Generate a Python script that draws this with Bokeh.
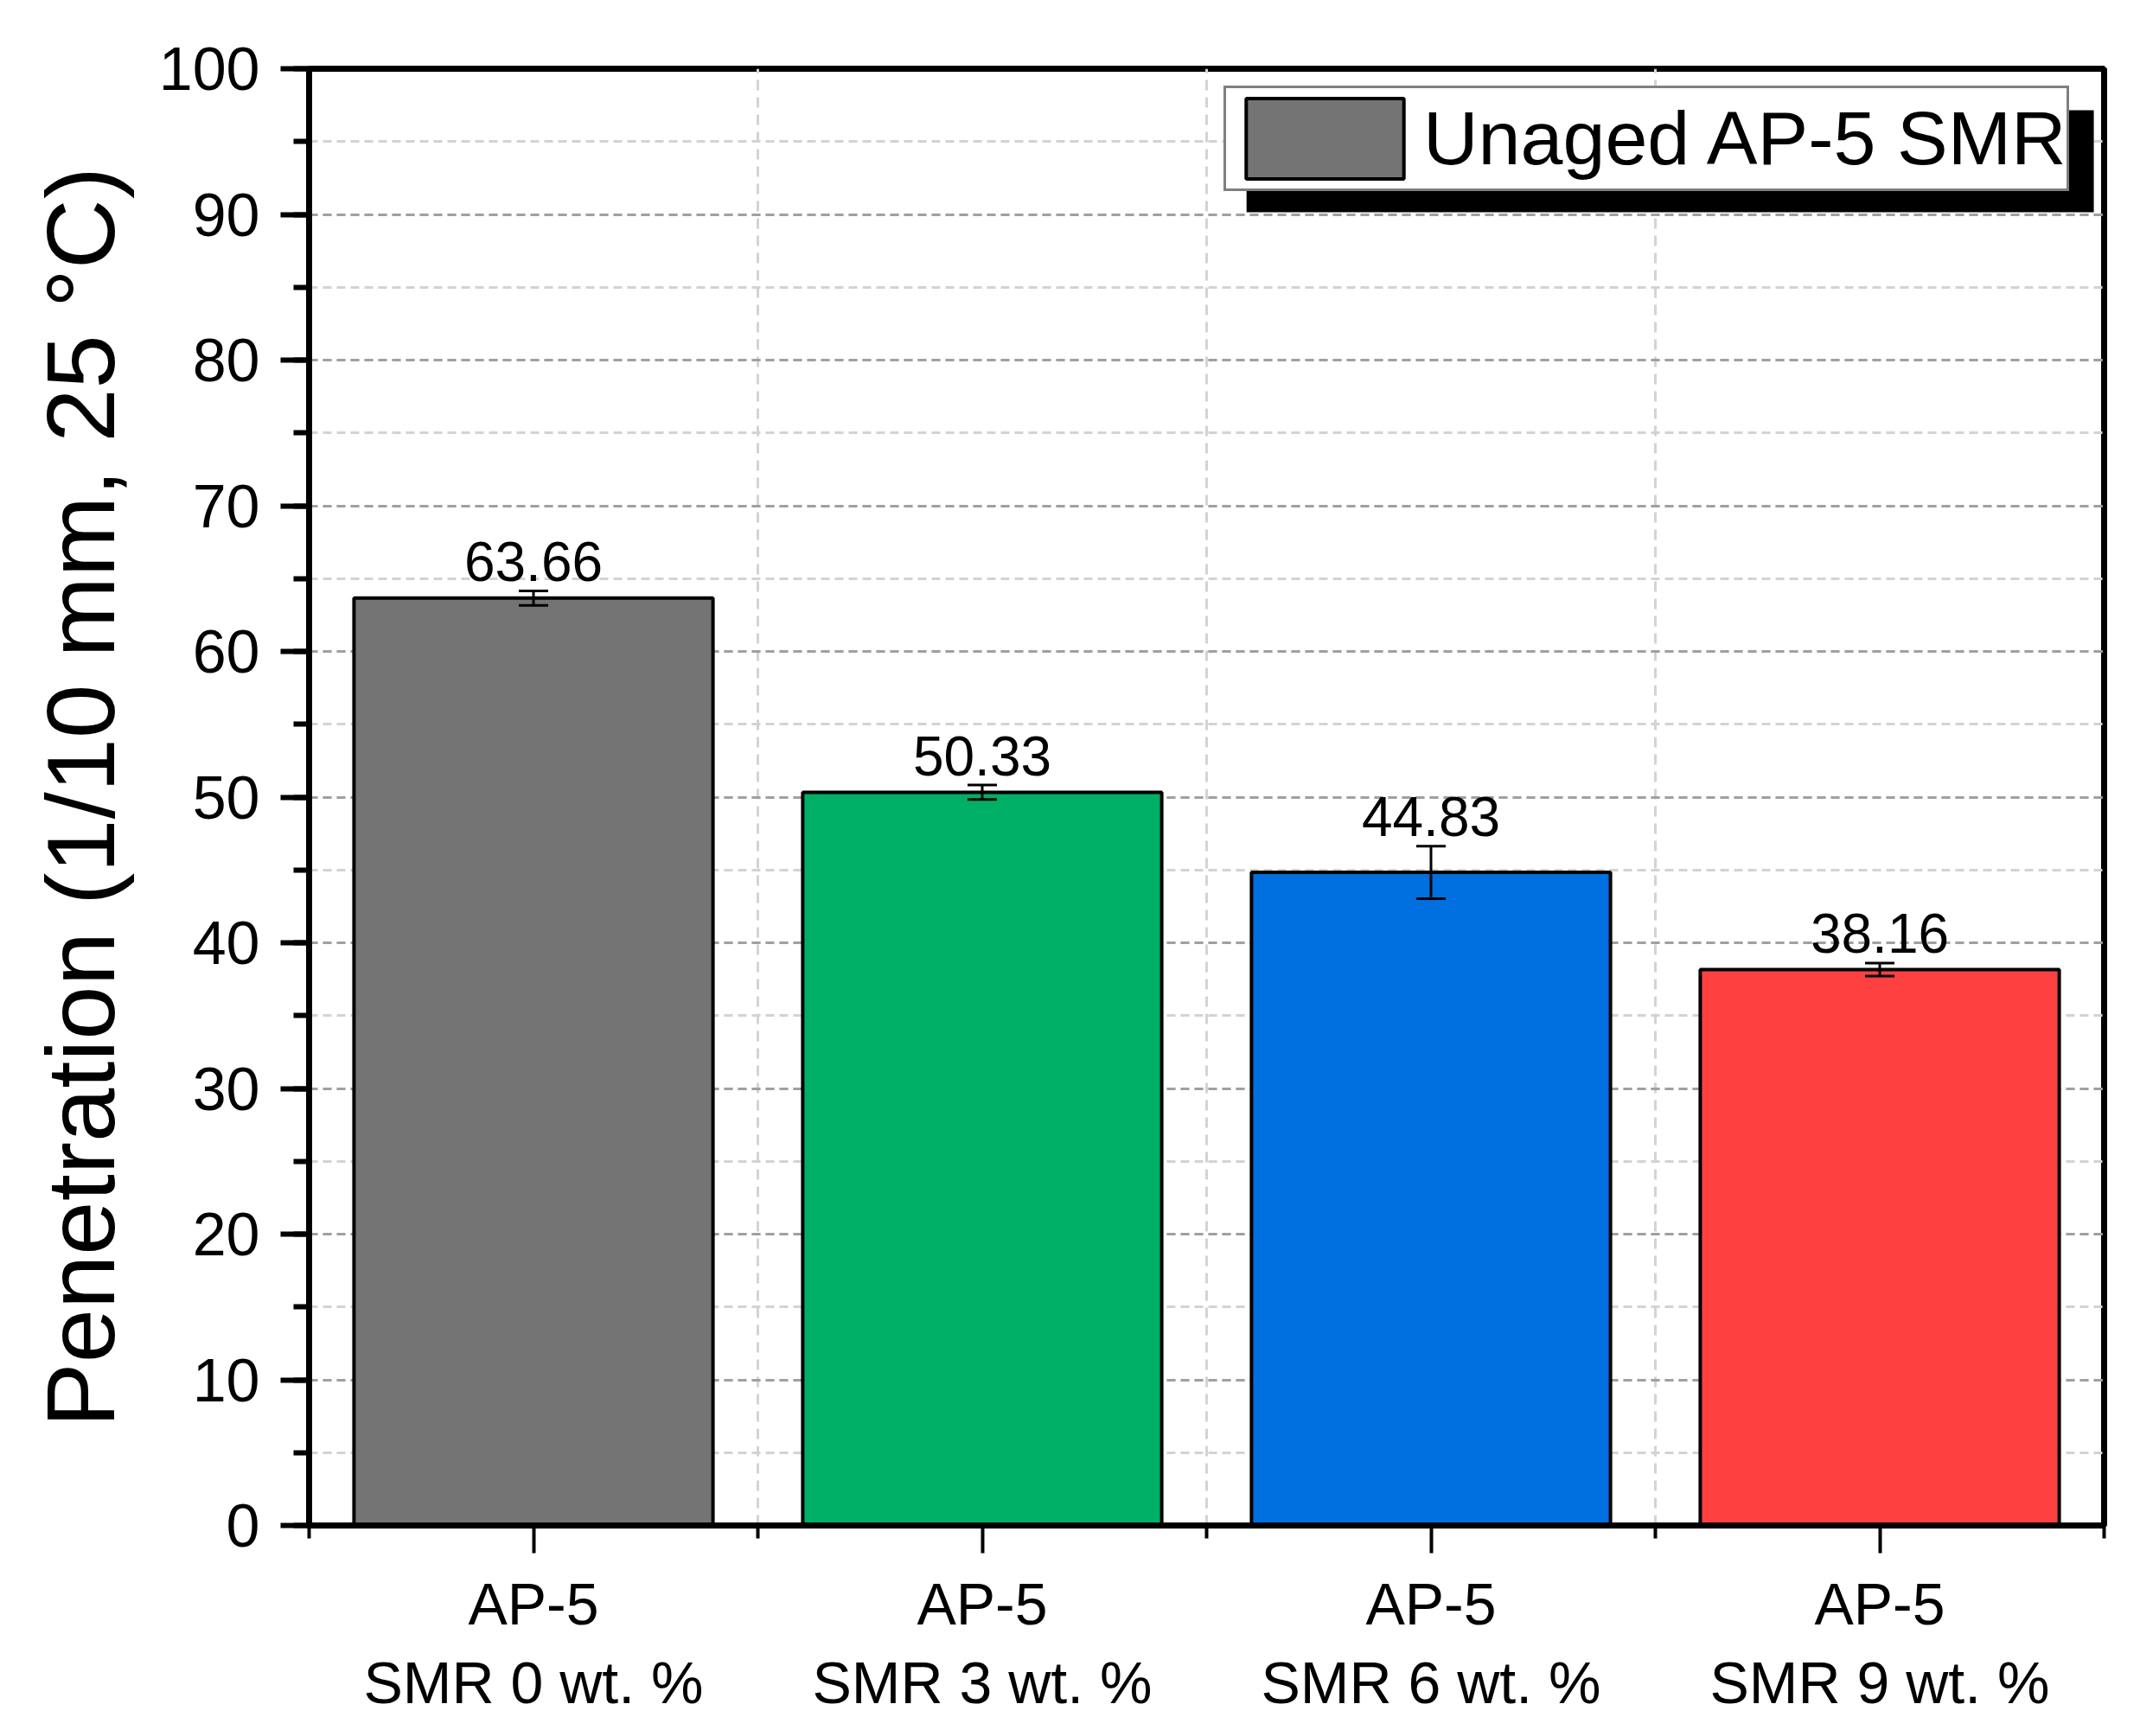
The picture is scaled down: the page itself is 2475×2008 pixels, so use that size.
from bokeh.plotting import figure
from bokeh.models import (ColumnDataSource, Range1d, FixedTicker, SingleIntervalTicker,
                          Whisker, TeeHead, Legend, LegendItem, BoxAnnotation)
from bokeh.core.properties import value
from bokeh.embed import file_html
from bokeh.resources import INLINE

# ---- data ----
categories = ["AP-5\nSMR 0 wt. %", "AP-5\nSMR 3 wt. %", "AP-5\nSMR 6 wt. %", "AP-5\nSMR 9 wt. %"]
values = [63.66, 50.33, 44.83, 38.16]
errors = [0.5, 0.5, 1.8, 0.45]
bar_colors = ["#747474", "#00AF66", "#0070E0", "#FF4040"]
series_name = "Unaged AP-5 SMR"
y_label = "Penetration (1/10 mm, 25 \u00b0C)"

FONT = "Liberation Sans"
positions = [i + 1 for i in range(len(categories))]

src = ColumnDataSource(dict(
    x=positions,
    top=values,
    upper=[v + e for v, e in zip(values, errors)],
    lower=[v - e for v, e in zip(values, errors)],
    color=bar_colors,
    lbl=["%.2f" % v for v in values],
))

p = figure(width=2459, height=1992, output_backend="svg", toolbar_location=None,
           x_range=Range1d(0.5, len(categories) + 0.5), y_range=Range1d(0, 100),
           min_border_left=357, min_border_right=26, min_border_top=79, min_border_bottom=228)
p.background_fill_color = "white"
p.border_fill_color = "white"
p.outline_line_color = "black"
p.outline_line_width = 7

# grids
p.ygrid.grid_line_color = "#a0a0a0"
p.ygrid.grid_line_width = 3
p.ygrid.grid_line_dash = "10 6"
p.ygrid.minor_grid_line_color = "#d3d3d3"
p.ygrid.minor_grid_line_width = 3
p.ygrid.minor_grid_line_dash = "10 6"
p.xgrid.ticker = FixedTicker(ticks=[1.5, 2.5, 3.5])
p.xgrid.grid_line_color = "#d3d3d3"
p.xgrid.grid_line_width = 3
p.xgrid.grid_line_dash = "12 8"

# bars
r = p.vbar(x="x", top="top", width=0.8, bottom=0, source=src,
           fill_color="color", line_color="black", line_width=4)

# error bars
w = Whisker(source=src, base="x", upper="upper", lower="lower", dimension="height",
            line_color="black", line_width=3, level="annotation",
            upper_head=TeeHead(size=34, line_width=3, line_color="black"),
            lower_head=TeeHead(size=34, line_width=3, line_color="black"))
p.add_layout(w)

# value labels
p.text(x="x", y="upper", text="lbl", source=src, text_align="center",
       text_baseline="alphabetic", y_offset=-34, text_font=value(FONT),
       text_font_size="64px", text_color="black")

# axes
yax = p.yaxis[0]
yax.ticker = SingleIntervalTicker(interval=10, num_minor_ticks=2)
yax.axis_label = y_label
yax.axis_label_text_font = FONT
yax.axis_label_text_font_size = "112px"
yax.axis_label_text_font_style = "normal"
yax.axis_label_text_color = "black"
yax.axis_label_standoff = 25
yax.major_label_text_font = FONT
yax.major_label_text_font_size = "70px"
yax.major_label_text_color = "black"
yax.major_label_standoff = 24
yax.axis_line_width = 7
yax.axis_line_color = "black"
yax.major_tick_out = 33
yax.major_tick_in = 0
yax.major_tick_line_width = 6
yax.minor_tick_out = 18
yax.minor_tick_in = 0
yax.minor_tick_line_width = 6

xax = p.xaxis[0]
xax.ticker = FixedTicker(ticks=positions,
                         minor_ticks=[0.5 + i for i in range(len(categories) + 1)])
xax.major_label_overrides = {pos: lab for pos, lab in zip(positions, categories)}
xax.major_label_text_font = FONT
xax.major_label_text_font_size = "68px"
xax.major_label_text_color = "black"
xax.major_label_standoff = 20
xax.axis_line_width = 7
xax.axis_line_color = "black"
xax.major_tick_out = 32
xax.major_tick_in = 0
xax.major_tick_line_width = 4
xax.minor_tick_out = 15
xax.minor_tick_in = 0
xax.minor_tick_line_width = 4

# legend shadow
shadow = BoxAnnotation(left=2.589, right=4.477, top=97.15, bottom=90.15,
                       fill_color="black", fill_alpha=1.0, line_color=None)
p.add_layout(shadow)

legend = Legend(items=[LegendItem(label=series_name, renderers=[r], index=0)],
                location=(1058, 1543), orientation="vertical",
                label_text_font=FONT, label_text_font_size="88px", label_text_color="black",
                glyph_width=228, glyph_height=116, label_height=116, label_standoff=0,
                padding=0, margin=0, spacing=0,
                border_line_color="black", border_line_width=3,
                background_fill_color="white", background_fill_alpha=1.0)
p.add_layout(legend, "center")

open("out.html", "w").write(file_html(p, INLINE))
